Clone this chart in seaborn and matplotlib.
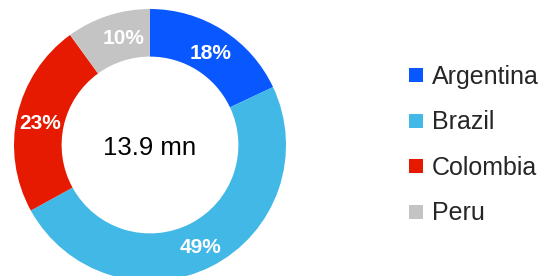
import matplotlib
matplotlib.use("Agg")
import matplotlib.pyplot as plt
import matplotlib.transforms as mtransforms
import seaborn as sns
import numpy as np
from matplotlib.lines import Line2D

countries = ["Argentina", "Brazil", "Colombia", "Peru"]
shares = [18, 49, 23, 10]
pct_labels = ["18%", "49%", "23%", "10%"]
center_label = "13.9 mn"
colors = ["#0957ff", "#42b8e6", "#e61a00", "#c4c4c4"]

sns.set_theme(style="white")
plt.rcParams["font.family"] = ["Liberation Sans", "DejaVu Sans"]

W, H = 545, 276
fig = plt.figure(figsize=(W / 100, H / 100), dpi=100)
cx, cy_top, R = 150, 145, 136
ax = fig.add_axes([(cx - R) / W, (H - cy_top - R) / H, 2 * R / W, 2 * R / H])
wedges, _ = ax.pie(shares, colors=colors, startangle=90, counterclock=False,
                   radius=1, wedgeprops=dict(width=0.35, linewidth=0))
ax.set_xlim(-1, 1)
ax.set_ylim(-1, 1)
ax.set_aspect("equal")
ax.axis("off")

down = mtransforms.offset_copy(ax.transData, fig=fig, x=0, y=-3, units="dots")

start = 90.0
total = sum(shares)
r_lab = 1 - 0.35 / 2
angle_nudge = {"10%": -4.5}
for s, lab in zip(shares, pct_labels):
    mid = start - s / total * 360 / 2 + angle_nudge.get(lab, 0)
    start -= s / total * 360
    x = r_lab * np.cos(np.radians(mid))
    y = r_lab * np.sin(np.radians(mid))
    ax.text(x, y, lab, ha="center", va="center", color="white",
            fontsize=15, fontweight="bold", transform=down)

ax.text(0, 0, center_label, ha="center", va="center", fontsize=18.5,
        color="black", transform=down)

handles = [Line2D([0], [0], marker="s", linestyle="none", markersize=10,
                  markerfacecolor=c, markeredgewidth=0) for c in colors]
fig.legend(handles, countries, loc="center left",
           bbox_to_anchor=(393 / W, (H - 145) / H), frameon=False,
           fontsize=18, labelspacing=0.86, handlelength=0.8,
           handletextpad=0.25, borderpad=0)

fig.savefig("out.png", dpi=100)
